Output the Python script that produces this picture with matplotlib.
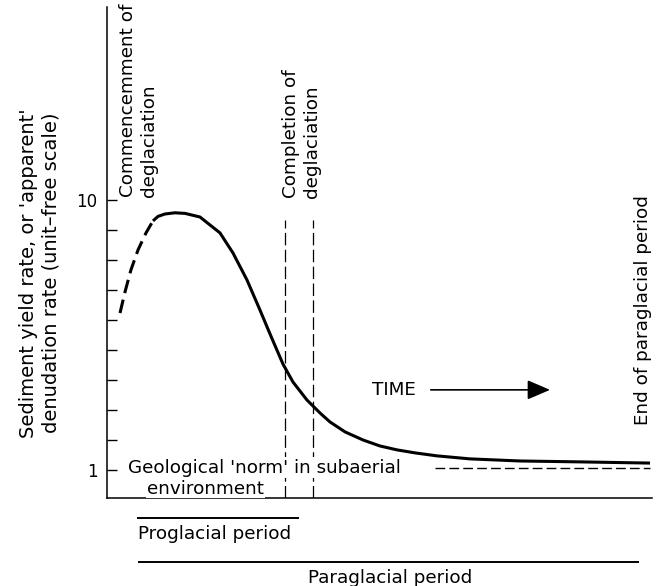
import matplotlib.pyplot as plt

plt.rcParams['font.family'] = ['DejaVu Sans']

# time in arbitrary units (0-100), rate in unit-free scale (1-10 ticks)
t_rise = [2.39, 3.30, 4.40, 5.69, 7.16, 8.44]
v_rise = [6.23, 6.93, 7.67, 8.33, 8.9, 9.3]
t_main = [8.44, 9.36, 10.64, 12.48, 14.31, 17.06, 20.73, 23.12, 25.69, 28.07,
          29.36, 30.46, 32.29, 34.13, 36.70, 39.08, 40.92, 43.67, 46.97, 50.09,
          53.21, 56.51, 60.55, 66.61, 75.78, 86.79, 99.63]
v_main = [9.3, 9.45, 9.53, 9.57, 9.55, 9.43, 8.9, 8.23, 7.33, 6.33,
          5.77, 5.3, 4.53, 3.93, 3.33, 2.9, 2.6, 2.27, 2.0, 1.8,
          1.67, 1.57, 1.47, 1.37, 1.3, 1.27, 1.23]
norm_level = 1.07
t_deglac = [32.7, 37.8]
yticks = list(range(1, 11))

fs = 13.2

fig = plt.figure(figsize=(6.6, 5.86), dpi=100)
ax = fig.add_axes([0.1621, 0.1502, 0.8258, 0.838])
ax.set_xlim(0, 100)
ax.set_ylim(0.067, 16.43)

for s in ['top', 'right']:
    ax.spines[s].set_visible(False)
for s in ['left', 'bottom']:
    ax.spines[s].set_linewidth(1.1)

ax.set_xticks([])
ax.set_yticks(yticks)
ax.set_yticklabels(['1' if v == 1 else '10' if v == 10 else '' for v in yticks])
ax.tick_params(axis='y', direction='in', length=7, width=1, pad=7, labelsize=12)

# curve
ax.plot(t_rise, v_rise, color='black', lw=2.2, dashes=(4.5, 2.2),
        solid_capstyle='butt')
ax.plot(t_main, v_main, color='black', lw=2.2, solid_capstyle='butt',
        solid_joinstyle='round')

# geological norm
ax.plot([60.2, 99.6], [norm_level, norm_level], color='black', lw=1,
        dashes=(7, 3))

# deglaciation limits
for t in t_deglac:
    ax.plot([t, t], [0.067, 9.33], color='black', lw=0.9, dashes=(10, 3.5))

ax.text(3.85, norm_level, "Geological 'norm' in subaerial", fontsize=fs,
        ha='left', va='center',
        bbox=dict(facecolor='white', edgecolor='none', pad=1))
ax.text(7.34, 0.38, "environment", fontsize=fs, ha='left', va='center',
        bbox=dict(facecolor='white', edgecolor='none', pad=0.5))

ax.text(5.78, 10.1, "Commencemment of\ndeglaciation", rotation=90,
        fontsize=fs, ha='center', va='bottom', multialignment='left',
        linespacing=1.2)
ax.text(35.7, 10.07, "Completion of\ndeglaciation", rotation=90,
        fontsize=fs, ha='center', va='bottom', multialignment='left',
        linespacing=1.2)
ax.text(98.3, 2.5, "End of paraglacial period", rotation=90, fontsize=fs,
        ha='center', va='bottom')

ax.text(48.6, 3.67, "TIME", fontsize=fs, ha='left', va='center')
ax.annotate('', xy=(81.8, 3.67), xytext=(58.9, 3.67),
            arrowprops=dict(arrowstyle='-|>,head_length=1.4,head_width=0.6',
                            color='black', lw=1.2))

ax.text(-12.3, 7.57,
        "Sediment yield rate, or 'apparent'\ndenudation rate (unit\u2013free scale)",
        rotation=90, fontsize=14, ha='center', va='center',
        multialignment='center', linespacing=1.2, clip_on=False)

# periods below axis
ax.plot([5.69, 35.05], [-0.6, -0.6], color='black', lw=1.4, clip_on=False)
ax.text(5.69, -1.12, "Proglacial period", fontsize=fs, ha='left', va='center')
ax.plot([5.87, 97.4], [-2.07, -2.07], color='black', lw=1.4, clip_on=False)
ax.text(51.9, -2.6, "Paraglacial period", fontsize=fs, ha='center',
        va='center')

fig.savefig('out.png', dpi=100)
